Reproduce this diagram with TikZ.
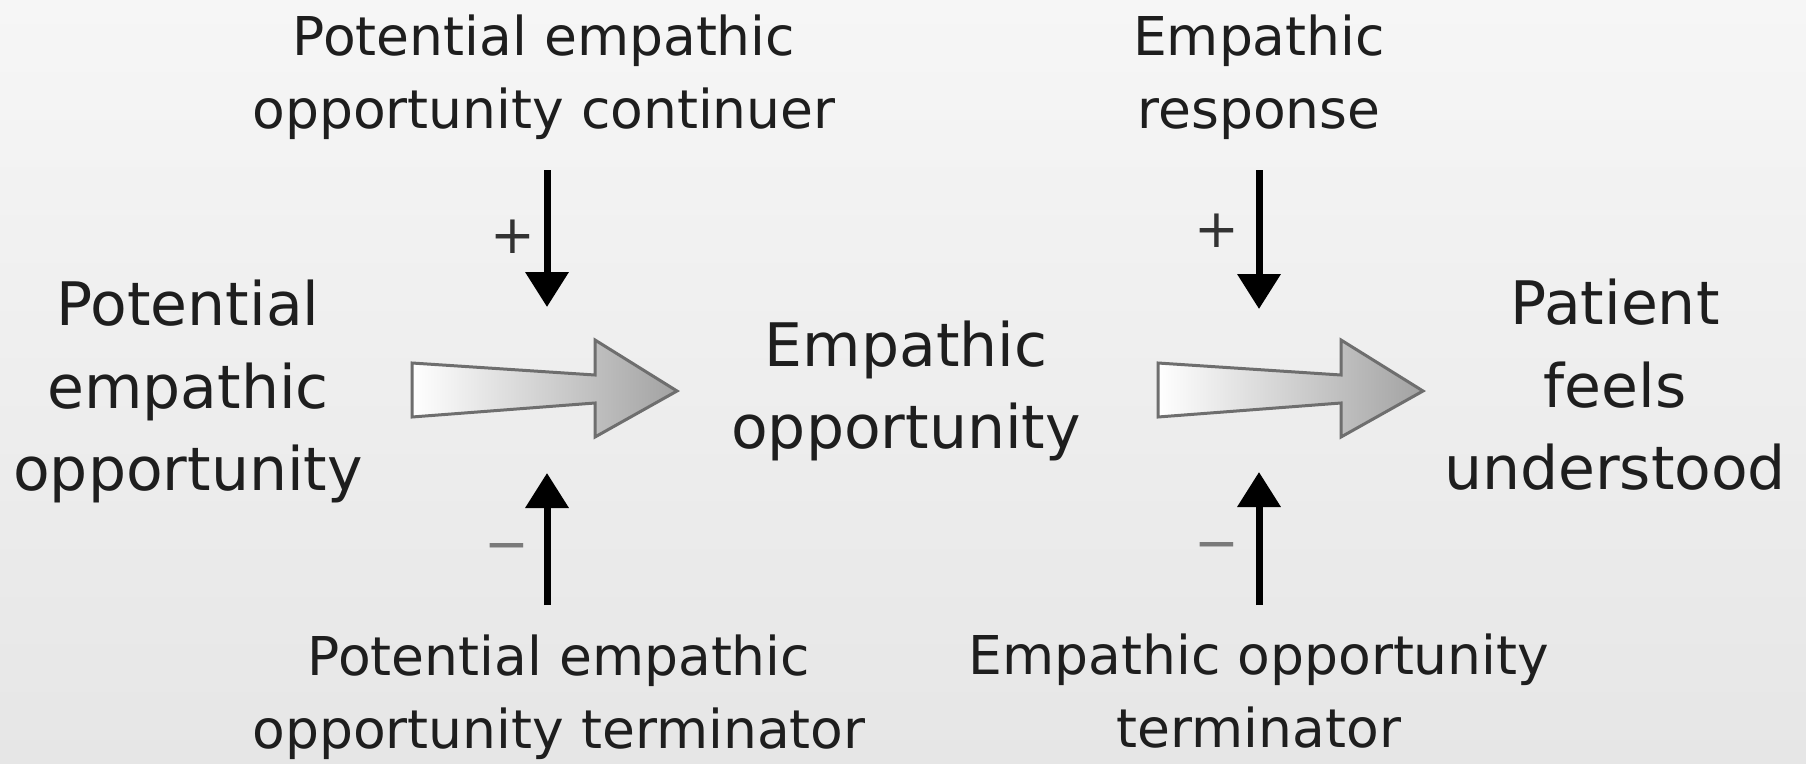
\documentclass[tikz,border=0pt]{standalone}
\usepackage{fontspec}
\setmainfont{DejaVu Sans}
\usetikzlibrary{arrows.meta}
\definecolor{txt}{HTML}{1E1E1E}
\definecolor{bgtop}{HTML}{F6F6F6}
\definecolor{bgbot}{HTML}{E6E6E6}
\definecolor{fatout}{HTML}{6E6E6E}
\definecolor{fatend}{HTML}{A2A2A2}
\definecolor{plussign}{HTML}{333333}
\definecolor{minussign}{HTML}{7A7A7A}
\begin{document}
\begin{tikzpicture}[x=1pt,y=-1pt,
  bigtxt/.style={font=\fontsize{60}{82.5}\selectfont, align=center, inner sep=0pt, text=txt},
  smalltxt/.style={font=\fontsize{53.5}{73}\selectfont, align=center, inner sep=0pt, text=txt},
  signtxt/.style={font=\fontsize{53.5}{60}\selectfont, inner sep=0pt, anchor=base},
  thinarrow/.style={line width=7pt, draw=black, -{Triangle[width=42pt,length=35pt]}},
  fatarrow/.style={line width=3pt, draw=fatout, left color=white, right color=fatend, line join=miter}]
\useasboundingbox (0,0) rectangle (1806,763);
\fill[top color=bgtop, bottom color=bgbot] (0,0) rectangle (1806,763);

% main texts
\node[bigtxt] (pot) at (188,391.8) {Potential\\empathic\\opportunity};
\node[bigtxt] (emp) at (906,390.8) {Empathic\\opportunity};
\node[bigtxt] (pat) at (1615,384.7) {Patient\\feels\\understood};

% side texts
\node[smalltxt] (cont) at (544,77.5) {Potential empathic\\opportunity continuer};
\node[smalltxt] (resp) at (1259,77.5) {Empathic\\response};
\node[smalltxt] (pterm) at (559,697.5) {Potential empathic\\opportunity terminator};
\node[smalltxt] (eterm) at (1259,691) {Empathic opportunity\\terminator};

% fat arrows
\draw[fatarrow] (412,363) -- (595,375) -- (595,340) -- (677,391) -- (595,437) -- (595,403) -- (412,417) -- cycle;
\draw[fatarrow] (1158,363) -- (1341,375) -- (1341,340) -- (1423,391) -- (1341,437) -- (1341,403) -- (1158,417) -- cycle;

% thin arrows
\coordinate (c1s) at (547,170);
\coordinate (c1e) at (547,307);
\coordinate (t1s) at (547,605);
\coordinate (t1e) at (547,473);
\coordinate (c2s) at (1259,170);
\coordinate (c2e) at (1259,309);
\coordinate (t2s) at (1259,605);
\coordinate (t2e) at (1259,472);
\draw[thinarrow] (c1s) -- (c1e);
\draw[thinarrow] (t1s) -- (t1e);
\draw[thinarrow] (c2s) -- (c2e);
\draw[thinarrow] (t2s) -- (t2e);

% signs
\node[signtxt, text=plussign] (p1) at (513,253) {+};
\node[signtxt, text=minussign] (m1) at (507,562) {−};
\node[signtxt, text=plussign] (p2) at (1217,247) {+};
\node[signtxt, text=minussign] (m2) at (1217,561) {−};
\end{tikzpicture}
\end{document}
